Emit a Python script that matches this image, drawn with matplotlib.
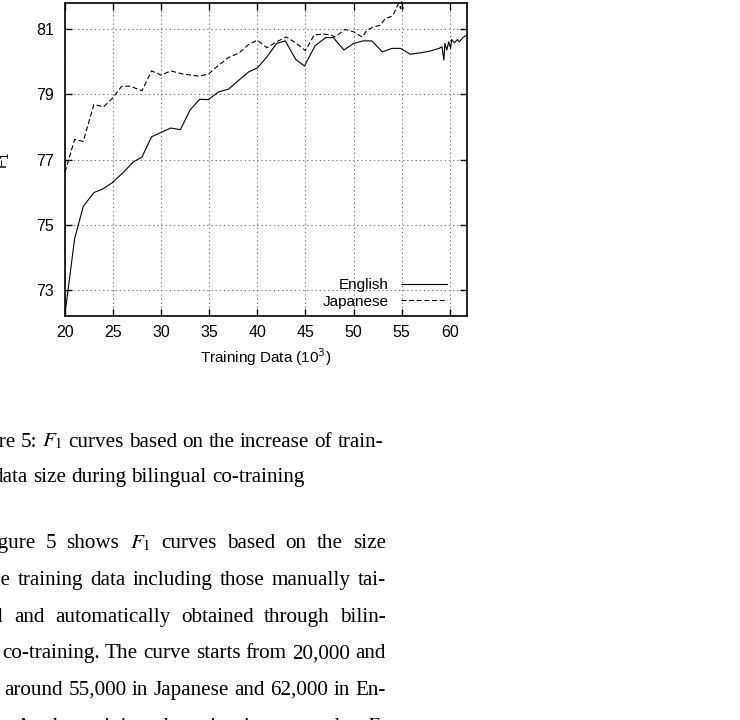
import matplotlib
matplotlib.use('Agg')
import matplotlib.pyplot as plt

plt.rcParams['mathtext.fontset'] = 'stix'
plt.rcParams['lines.scale_dashes'] = False

# F1 against training data size (x in thousands)
english_x = [20.0, 21.0, 21.9, 23.0, 23.9, 24.9, 26.1, 27.1, 28.0, 29.0, 30.1, 31.0,
             32.0, 33.0, 34.0, 34.9, 36.0, 37.0, 38.1, 39.1, 40.0, 41.0, 42.0, 42.9,
             44.0, 44.9, 46.0, 47.1, 47.9, 49.0, 50.0, 51.0, 51.9, 53.0, 54.0, 54.9,
             55.9, 56.9, 58.0, 58.9, 59.2, 59.4, 59.5, 59.7, 59.9, 60.1, 60.2, 60.5,
             60.8, 61.0, 61.4, 61.8]
english_f1 = [72.28, 74.58, 75.57, 75.99, 76.10, 76.29, 76.62, 76.93, 77.08, 77.70, 77.85, 77.97,
              77.92, 78.52, 78.85, 78.84, 79.08, 79.16, 79.44, 79.69, 79.81, 80.15, 80.56, 80.64,
              80.07, 79.87, 80.49, 80.74, 80.74, 80.36, 80.56, 80.64, 80.64, 80.30, 80.41, 80.41,
              80.23, 80.27, 80.33, 80.41, 80.46, 80.05, 80.56, 80.36, 80.61, 80.41, 80.68, 80.58,
              80.68, 80.61, 80.75, 80.82]

japanese_x = [20.0, 21.0, 21.9, 23.0, 24.0, 24.9, 25.9, 26.8, 28.0, 29.0, 30.0, 31.0,
              32.3, 33.9, 34.9, 36.0, 37.0, 38.1, 39.1, 40.0, 41.0, 42.0, 43.0, 44.0,
              45.0, 45.9, 46.9, 47.6, 48.1, 49.1, 50.0, 50.9, 51.4, 52.1, 52.8, 53.3,
              53.7, 54.0, 54.2, 54.5, 54.7, 54.9, 55.0, 55.2]
japanese_f1 = [76.62, 77.62, 77.56, 78.69, 78.62, 78.87, 79.25, 79.25, 79.11, 79.72, 79.59, 79.72,
               79.62, 79.56, 79.62, 79.90, 80.13, 80.27, 80.53, 80.66, 80.43, 80.61, 80.76, 80.58,
               80.34, 80.82, 80.85, 80.82, 80.76, 80.99, 80.92, 80.76, 80.97, 81.07, 81.12, 81.33,
               81.36, 81.40, 81.48, 81.68, 81.79, 81.63, 81.84, 81.63]

x_ticks = [20, 25, 30, 35, 40, 45, 50, 55, 60]
y_ticks = [73, 75, 77, 79, 81]

caption_lines = ["Figure 5: $F_1$ curves based on the increase of train-",
                 "ing data size during bilingual co-training"]
body_lines = ["Figure 5 shows $F_1$ curves based on the size",
              "of the training data including those manually tai-",
              "lored and automatically obtained through bilin-",
              "gual co-training. The curve starts from 20,000 and",
              "ends around 55,000 in Japanese and 62,000 in En-",
              "glish. As the training data size increases the $F_1$"]

W, H = 740, 720


def fx(px):
    return px / W


def fy(py):
    return 1 - py / H


fig = plt.figure(figsize=(7.4, 7.2), dpi=100)
ax = fig.add_axes([fx(65), fy(315.7), (467 - 65) / W, (315.7 - 3) / H])

ax.plot(english_x, english_f1, color='black', lw=0.8, label='English')
ax.plot(japanese_x, japanese_f1, color='black', lw=0.8, dashes=(3.6, 1.9),
        label='Japanese', clip_on=False)

ax.set_xlim(20, 61.8)
ax.set_ylim(72.22, 81.8)
ax.set_xticks(x_ticks)
ax.set_yticks(y_ticks)
ax.grid(True, linestyle=(0, (1, 2)), color='#777777', lw=0.7)
ax.tick_params(direction='in', length=5, width=1, top=True, right=True,
               labelsize=11.5, colors='black')
ax.tick_params(axis='x', pad=7)
ax.tick_params(axis='y', pad=8)
for lab in ax.get_xticklabels() + ax.get_yticklabels():
    lab.set_family('Liberation Sans')
for s in ax.spines.values():
    s.set_linewidth(1.2)

fig.text(fx(266), fy(363), 'Training Data (10$^3$)', ha='center', va='baseline',
         fontsize=11, family='Liberation Sans', math_fontfamily='dejavusans')
fig.text(fx(4), fy(160), 'F$_1$', ha='center', va='center', rotation=90,
         fontsize=11, family='Liberation Sans', math_fontfamily='dejavusans')

leg = ax.legend(loc='lower right', bbox_to_anchor=(0.95, 0.023), frameon=False,
                markerfirst=False, handlelength=3.0, handletextpad=0.8,
                labelspacing=0.15, borderpad=0, borderaxespad=0,
                prop={'family': 'Liberation Sans', 'size': 11})

# body text set word by word so justified lines can be spread
renderer = fig.canvas.get_renderer()
body_size = 15.2
em = body_size * 100 / 72
left_px, right_px, indent_px = -40, 386, 20


def put_line(line, x0, x1, base, justify):
    words = line.split(' ')
    texts = [fig.text(0, fy(base), w, fontsize=body_size, family='Liberation Serif',
                      va='baseline', ha='left') for w in words]
    widths = [t.get_window_extent(renderer).width for t in texts]
    gap = 0.25 * em
    if justify and len(words) > 1:
        gap = (x1 - x0 - sum(widths)) / (len(words) - 1)
    x = x0
    for t, w in zip(texts, widths):
        t.set_x(fx(x))
        x += w + gap


caption_base = [446.7, 481.7]
for line, b in zip(caption_lines, caption_base):
    put_line(line, left_px, right_px, b, False)

body_base = [548.3, 585, 621.7, 658.3, 695, 731.7]
for i, (line, b) in enumerate(zip(body_lines, body_base)):
    x0 = left_px + (indent_px if i == 0 else 0)
    put_line(line, x0, right_px, b, True)

fig.savefig('out.png', dpi=100)
